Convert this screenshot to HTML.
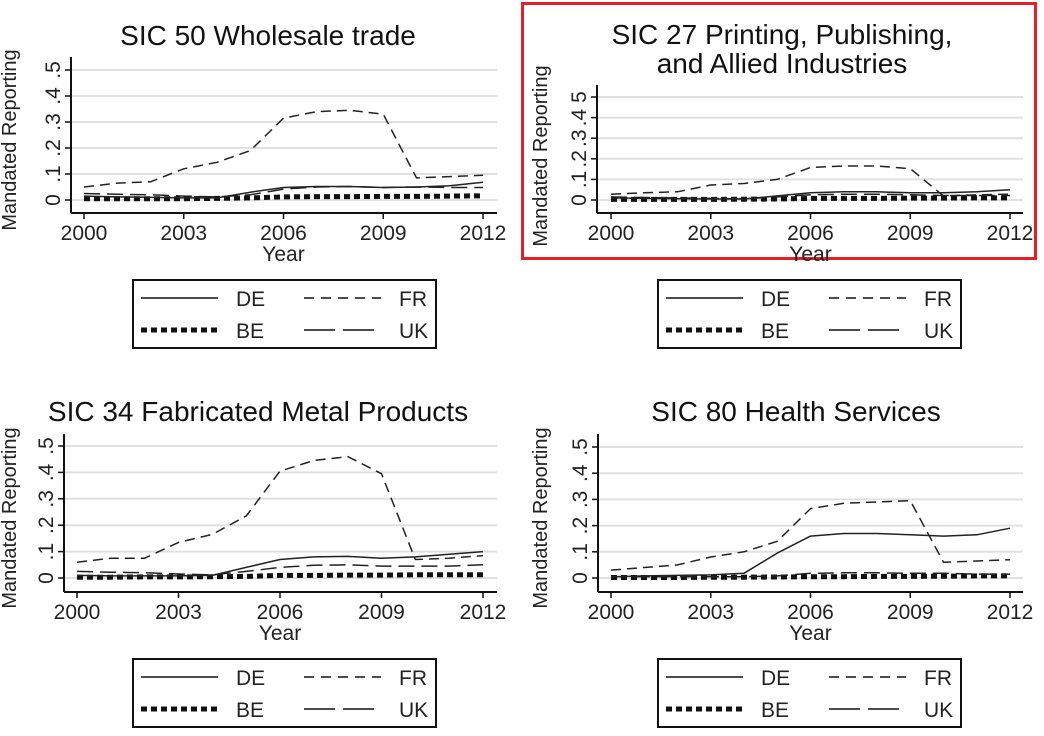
<!DOCTYPE html>
<html><head><meta charset="utf-8">
<style>
html,body{margin:0;padding:0;background:#fff;}
svg{display:block;font-family:"Liberation Sans",Arial,sans-serif;}
</style></head>
<body>
<svg id="chart" width="1044" height="736" viewBox="0 0 1044 736" xmlns="http://www.w3.org/2000/svg">
<rect x="522.5" y="3.5" width="513" height="255" fill="none" stroke="#e3202a" stroke-width="3"/>
</svg>
<script>
const years = [2000,2001,2002,2003,2004,2005,2006,2007,2008,2009,2010,2011,2012];
const xTicks = [2000,2003,2006,2009,2012];
const yTicks = [0,0.1,0.2,0.3,0.4,0.5];
const yTickLabels = ["0",".1",".2",".3",".4",".5"];
const yTickLabels2 = ["0",".1",".2",".3",".4","5"];
const seriesNames = ["DE","FR","BE","UK"];

const p1DE = [.015,.012,.010,.008,.008,.030,.048,.052,.052,.048,.050,.055,.068];
const p1FR = [.050,.065,.070,.120,.145,.190,.315,.340,.345,.330,.085,.090,.095];
const p1BE = [.005,.005,.005,.005,.006,.008,.012,.013,.013,.014,.014,.015,.016];
const p1UK = [.025,.022,.020,.015,.012,.020,.042,.050,.052,.048,.050,.048,.048];

const p2DE = [.010,.008,.006,.005,.005,.020,.035,.040,.040,.035,.035,.040,.050];
const p2FR = [.028,.035,.040,.073,.080,.100,.158,.165,.165,.152,.020,.025,.028];
const p2BE = [.003,.003,.003,.003,.004,.005,.008,.008,.008,.009,.009,.010,.010];
const p2UK = [.015,.012,.010,.008,.006,.015,.025,.028,.028,.025,.022,.022,.022];

const p3DE = [.010,.008,.008,.008,.010,.040,.070,.080,.082,.075,.080,.090,.100];
const p3FR = [.060,.075,.075,.135,.165,.235,.405,.445,.460,.395,.070,.075,.085];
const p3BE = [.003,.003,.004,.004,.005,.006,.010,.010,.011,.011,.012,.012,.012];
const p3UK = [.025,.022,.020,.015,.012,.025,.040,.048,.050,.045,.045,.045,.050];

const p4DE = [.005,.008,.010,.012,.018,.095,.160,.170,.170,.165,.160,.165,.190];
const p4FR = [.030,.040,.050,.080,.100,.140,.265,.285,.290,.295,.060,.065,.070];
const p4BE = [.002,.002,.002,.003,.003,.004,.005,.005,.006,.006,.007,.008,.008];
const p4UK = [.005,.005,.005,.005,.005,.008,.018,.020,.020,.018,.018,.015,.015];

const NS="http://www.w3.org/2000/svg";
const svg=document.getElementById('chart');
function mk(tag,attrs,parent){const e=document.createElementNS(NS,tag);for(const k in attrs)e.setAttribute(k,attrs[k]);(parent||svg).appendChild(e);return e;}
const styles={
 DE:{w:1.5,dash:"none"},
 FR:{w:1.5,dash:"10 6"},
 BE:{w:5,dash:"6 4"},
 UK:{w:1.5,dash:"16 7"}
};

function panel(cfg){
  const g=mk('g',{});
  
  
  const xS=v=>cfg.x0+(v-2000)/12*(cfg.x1-cfg.x0);
  const yS=v=>cfg.y0-v/0.5*(cfg.y0-cfg.y5);
  yTicks.forEach((t,i)=>{
    const l=mk('line',{x1:cfg.ax,x2:cfg.gr,y1:yS(t),y2:yS(t),stroke:'#e0e0e0','stroke-width':2},g);
    
    
  });
  const ya=mk('line',{x1:cfg.ax,x2:cfg.ax,y1:cfg.yTop,y2:cfg.yb,stroke:'#111','stroke-width':2},g);
  
  
  const xa=mk('line',{x1:cfg.ax,x2:cfg.gr,y1:cfg.yb,y2:cfg.yb,stroke:'#111','stroke-width':2},g);
  
  
  yTicks.forEach((t,i)=>{
    mk('line',{x1:cfg.ax-6,x2:cfg.ax,y1:yS(t),y2:yS(t),stroke:'#111','stroke-width':1.5},g);
    const tx=mk('text',{x:cfg.ax-11,y:yS(t),'font-size':21,'text-anchor':'middle',fill:'#222',transform:`rotate(-90 ${cfg.ax-11} ${yS(t)})`},g);
    tx.textContent=cfg.yl[i];
    
    
  });
  xTicks.forEach(t=>{
    mk('line',{x1:xS(t),x2:xS(t),y1:cfg.yb,y2:cfg.yb+6,stroke:'#111','stroke-width':1.5},g);
    const tx=mk('text',{x:xS(t),y:cfg.yb+27,'font-size':21,'text-anchor':'middle',fill:'#222'},g);
    tx.textContent=t;
    
    
  });
  const xt=mk('text',{x:(cfg.x0+cfg.x1)/2,y:cfg.yb+48,'font-size':21,'text-anchor':'middle',fill:'#222'},g);
  xt.textContent='Year';
  
  
  const ytt=mk('text',{x:cfg.ytx,y:cfg.ytc,'font-size':20,'text-anchor':'middle',fill:'#222',transform:`rotate(-90 ${cfg.ytx} ${cfg.ytc})`},g);
  ytt.textContent='Mandated Reporting';
  
  
  cfg.title.forEach((s,i)=>{
    const tt=mk('text',{x:cfg.tx,y:cfg.ty+i*29,'font-size':28,'text-anchor':'middle',fill:'#111'},g);
    tt.textContent=s;
    
    
  });
  const order=['BE','UK','DE','FR'];
  order.forEach(n=>{
    const vals=cfg.data[n];
    const pts=years.map((yr,i)=>xS(yr).toFixed(1)+','+yS(vals[i]).toFixed(1)).join(' ');
    const st=styles[n];
    const pl=mk('polyline',{points:pts,fill:'none',stroke:n==='BE'?'#111':'#222','stroke-width':st.w,'stroke-dasharray':st.dash,'stroke-linejoin':'round'},g);
    
    
  });
  const L=cfg.leg;
  const lg=mk('g',{},g);
  
  
  mk('rect',{x:L.x,y:L.y,width:303,height:68,fill:'#fff',stroke:'#111','stroke-width':2},lg);
  const ent=[['DE',0,0],['FR',1,0],['BE',0,1],['UK',1,1]];
  ent.forEach(([n,c,r])=>{
    const ly=L.y+18+r*32;
    const lx=L.x+8+c*163;
    const ln=mk('line',{x1:lx,x2:lx+77,y1:ly,y2:ly,stroke:'#111','stroke-width':n==='BE'?5:1.6,'stroke-dasharray':n==='FR'?'10 7':n==='UK'?'31 8':n==='BE'?'6 4':'none'},lg);
    
    
    const t=mk('text',{x:lx+95,y:ly+8,'font-size':21,fill:'#222'},lg);
    t.textContent=n;
    
    
  });
}

panel({name:'panel-sic50',x0:84,x1:483,ax:71,gr:497,y0:200,y5:70,yTop:57,yb:213,yl:yTickLabels,
  ytx:16,ytc:140,tx:268,ty:45,title:['SIC 50 Wholesale trade'],
  data:{DE:p1DE,FR:p1FR,BE:p1BE,UK:p1UK},leg:{x:133,y:280}});
panel({name:'panel-sic27',x0:611,x1:1010,ax:597,gr:1023,y0:200,y5:97,yTop:85,yb:213,yl:yTickLabels2,
  ytx:547,ytc:156,tx:782,ty:44,title:['SIC 27 Printing, Publishing,','and Allied Industries'],
  data:{DE:p2DE,FR:p2FR,BE:p2BE,UK:p2UK},leg:{x:658,y:280}});
panel({name:'panel-sic34',x0:77,x1:483,ax:64,gr:497,y0:578,y5:446,yTop:434,yb:592,yl:yTickLabels,
  ytx:16,ytc:518,tx:258,ty:421,title:['SIC 34 Fabricated Metal Products'],
  data:{DE:p3DE,FR:p3FR,BE:p3BE,UK:p3UK},leg:{x:133,y:659}});
panel({name:'panel-sic80',x0:611,x1:1010,ax:598,gr:1023,y0:578,y5:447,yTop:434,yb:592,yl:yTickLabels,
  ytx:547,ytc:518,tx:796,ty:421,title:['SIC 80 Health Services'],
  data:{DE:p4DE,FR:p4FR,BE:p4BE,UK:p4UK},leg:{x:658,y:659}});
</script>
</body></html>
